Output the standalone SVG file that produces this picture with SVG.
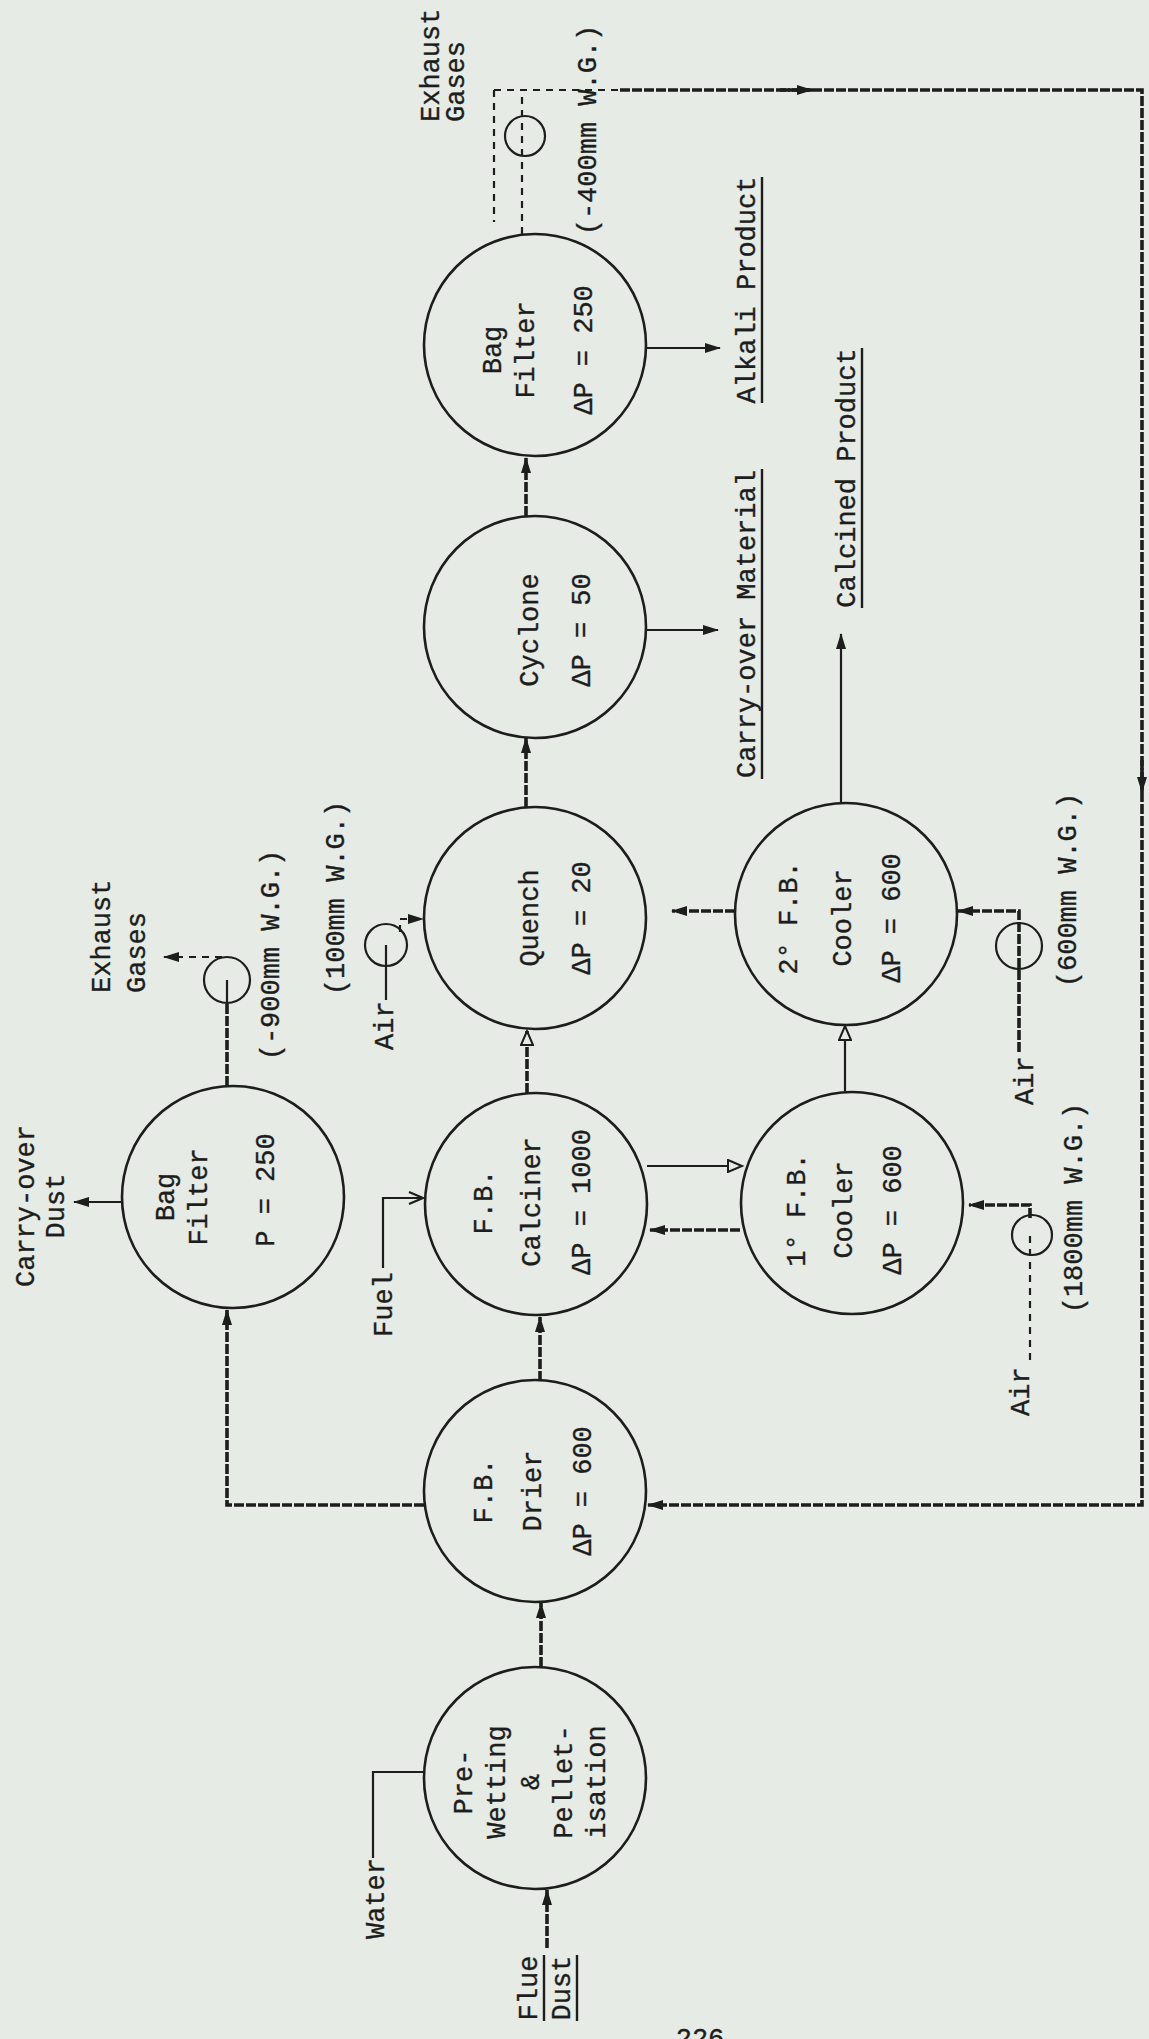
<svg xmlns="http://www.w3.org/2000/svg" width="1149" height="2039" viewBox="0 0 1149 2039">
  <defs>
    <style>
      .bg { fill: #e6ebe5; }
      .unit { fill: none; stroke: #1d1d1d; stroke-width: 2.6; }
      .fan { fill: none; stroke: #1d1d1d; stroke-width: 2.2; }
      .t { font-family: "Liberation Mono", "DejaVu Sans Mono", monospace; font-size: 27px; fill: #1d1d1d; stroke: #1d1d1d; stroke-width: 0.35; }
      .thin { fill: none; stroke: #1d1d1d; stroke-width: 2.2; }
      .thick { fill: none; stroke: #1d1d1d; stroke-width: 3.6; stroke-dasharray: 10 2; }
      .dash { fill: none; stroke: #1d1d1d; stroke-width: 2.2; stroke-dasharray: 7 6; }
      .ul { stroke: #1d1d1d; stroke-width: 2.4; }
    </style>
    <marker id="ah" markerUnits="userSpaceOnUse" markerWidth="18" markerHeight="12" refX="15" refY="6" orient="auto">
      <path d="M0,1 L16,6 L0,11 z" fill="#1d1d1d"/>
    </marker>
    <marker id="ao" markerUnits="userSpaceOnUse" markerWidth="18" markerHeight="14" refX="15" refY="7" orient="auto">
      <path d="M1,1 L15,7 L1,13 z" fill="#e6ebe5" stroke="#1d1d1d" stroke-width="2"/>
    </marker>
    <marker id="av" markerUnits="userSpaceOnUse" markerWidth="18" markerHeight="14" refX="15" refY="7" orient="auto">
      <path d="M1,1 L15,7 L1,13" fill="none" stroke="#1d1d1d" stroke-width="2.2"/>
    </marker>
  </defs>

  <rect class="bg" x="0" y="0" width="1149" height="2039"/>

  <!-- connectors -->
  <g id="connectors">
    <!-- feed and main train -->
    <line class="thick" x1="547" y1="1948" x2="547" y2="1890" marker-end="url(#ah)"/>
    <polyline class="thin" points="373,1858 373,1772 424,1772"/>
    <line class="thick" x1="541" y1="1667" x2="541" y2="1603" marker-end="url(#ah)"/>
    <line class="thick" x1="540" y1="1381" x2="540" y2="1317" marker-end="url(#ah)"/>
    <polyline class="thick" points="424,1505 227,1505 227,1310" marker-end="url(#ah)"/>
    <polyline class="thin" points="383,1268 383,1198 423,1198" marker-end="url(#av)"/>
    <line class="thick" x1="527" y1="1093" x2="527" y2="1031" marker-end="url(#ao)"/>
    <line class="thick" x1="526" y1="807" x2="526" y2="738" marker-end="url(#ah)"/>
    <line class="thick" x1="526" y1="516" x2="526" y2="458" marker-end="url(#ah)"/>

    <!-- calciner / coolers -->
    <line class="thin" x1="647" y1="1166" x2="742" y2="1166" marker-end="url(#ao)"/>
    <line class="thick" x1="740" y1="1230" x2="650" y2="1230" marker-end="url(#ah)"/>
    <line class="thin" x1="845" y1="1091" x2="845" y2="1026" marker-end="url(#ao)"/>
    <line class="thin" x1="841" y1="802" x2="841" y2="634" marker-end="url(#ah)"/>
    <line class="thick" x1="735" y1="911" x2="672" y2="911" marker-end="url(#ah)"/>

    <!-- products -->
    <line class="thin" x1="646" y1="630" x2="718" y2="630" marker-end="url(#ah)"/>
    <line class="thin" x1="646" y1="348" x2="720" y2="348" marker-end="url(#ah)"/>
    <line class="thin" x1="122" y1="1202" x2="74" y2="1202" marker-end="url(#ah)"/>

    <!-- first bag filter exhaust -->
    <line class="thick" x1="227" y1="1086" x2="227" y2="1003"/>
    <line class="thin" x1="227" y1="1003" x2="227" y2="980"/>
    <line class="dash" x1="222" y1="957" x2="164" y2="957" marker-end="url(#ah)"/>

    <!-- quench air -->
    <line class="thin" x1="386" y1="1000" x2="386" y2="945"/>
    <polyline class="dash" points="400,932 400,919 423,919" marker-end="url(#ah)"/>

    <!-- 2nd cooler air -->
    <polyline class="thick" points="1019,1052 1019,911 958,911" marker-end="url(#ah)"/>

    <!-- 1st cooler air -->
    <line class="dash" x1="1030" y1="1360" x2="1030" y2="1235"/>
    <polyline class="thick" points="1030,1218 1030,1205 969,1205" marker-end="url(#ah)"/>

    <!-- second bag filter exhaust and recycle -->
    <line class="dash" x1="522" y1="234" x2="522" y2="90"/>
    <line class="dash" x1="494" y1="90" x2="494" y2="222"/>
    <line class="dash" x1="494" y1="90" x2="620" y2="90"/>
    <polyline class="thick" points="620,90 1142,90 1142,1505 648,1505" marker-end="url(#ah)"/>
    <line class="thick" x1="780" y1="90" x2="812" y2="90" marker-end="url(#ah)"/>
    <line class="thick" x1="1142" y1="760" x2="1142" y2="792" marker-end="url(#ah)"/>
  </g>

  <!-- process units -->
  <g id="pre-wetting">
    <circle class="unit" cx="535" cy="1778" r="111"/>
    <text class="t" text-anchor="middle" dominant-baseline="central" transform="translate(465,1782) rotate(-90)">Pre-</text>
    <text class="t" text-anchor="middle" dominant-baseline="central" transform="translate(498,1782) rotate(-90)">Wetting</text>
    <text class="t" text-anchor="middle" dominant-baseline="central" transform="translate(532,1782) rotate(-90)">&amp;</text>
    <text class="t" text-anchor="middle" dominant-baseline="central" transform="translate(565,1782) rotate(-90)">Pellet-</text>
    <text class="t" text-anchor="middle" dominant-baseline="central" transform="translate(598,1782) rotate(-90)">isation</text>
  </g>

  <g id="drier">
    <circle class="unit" cx="535" cy="1491" r="111"/>
    <text class="t" text-anchor="middle" dominant-baseline="central" transform="translate(485,1491) rotate(-90)">F.B.</text>
    <text class="t" text-anchor="middle" dominant-baseline="central" transform="translate(534,1491) rotate(-90)">Drier</text>
    <text class="t" text-anchor="middle" dominant-baseline="central" transform="translate(584,1491) rotate(-90)">ΔP = 600</text>
  </g>

  <g id="calciner">
    <circle class="unit" cx="536" cy="1204" r="111"/>
    <text class="t" text-anchor="middle" dominant-baseline="central" transform="translate(485,1202) rotate(-90)">F.B.</text>
    <text class="t" text-anchor="middle" dominant-baseline="central" transform="translate(533,1202) rotate(-90)">Calciner</text>
    <text class="t" text-anchor="middle" dominant-baseline="central" transform="translate(583,1202) rotate(-90)">ΔP = 1000</text>
  </g>

  <g id="quench">
    <circle class="unit" cx="535" cy="918" r="111"/>
    <text class="t" text-anchor="middle" dominant-baseline="central" transform="translate(531,918) rotate(-90)">Quench</text>
    <text class="t" text-anchor="middle" dominant-baseline="central" transform="translate(583,918) rotate(-90)">ΔP = 20</text>
  </g>

  <g id="cyclone">
    <circle class="unit" cx="535" cy="627" r="111"/>
    <text class="t" text-anchor="middle" dominant-baseline="central" transform="translate(531,630) rotate(-90)">Cyclone</text>
    <text class="t" text-anchor="middle" dominant-baseline="central" transform="translate(583,630) rotate(-90)">ΔP = 50</text>
  </g>

  <g id="bag-filter-2">
    <circle class="unit" cx="535" cy="345" r="111"/>
    <text class="t" text-anchor="middle" dominant-baseline="central" transform="translate(494,350) rotate(-90)">Bag</text>
    <text class="t" text-anchor="middle" dominant-baseline="central" transform="translate(527,350) rotate(-90)">Filter</text>
    <text class="t" text-anchor="middle" dominant-baseline="central" transform="translate(585,350) rotate(-90)">ΔP = 250</text>
  </g>

  <g id="bag-filter-1">
    <circle class="unit" cx="233" cy="1197" r="111"/>
    <text class="t" text-anchor="middle" dominant-baseline="central" transform="translate(167,1197) rotate(-90)">Bag</text>
    <text class="t" text-anchor="middle" dominant-baseline="central" transform="translate(200,1197) rotate(-90)">Filter</text>
    <text class="t" text-anchor="middle" dominant-baseline="central" transform="translate(267,1190) rotate(-90)">P = 250</text>
  </g>

  <g id="cooler-1">
    <circle class="unit" cx="852" cy="1203" r="111"/>
    <text class="t" text-anchor="middle" dominant-baseline="central" transform="translate(798,1210) rotate(-90)">1° F.B.</text>
    <text class="t" text-anchor="middle" dominant-baseline="central" transform="translate(845,1210) rotate(-90)">Cooler</text>
    <text class="t" text-anchor="middle" dominant-baseline="central" transform="translate(894,1210) rotate(-90)">ΔP = 600</text>
  </g>

  <g id="cooler-2">
    <circle class="unit" cx="846" cy="914" r="111"/>
    <text class="t" text-anchor="middle" dominant-baseline="central" transform="translate(790,918) rotate(-90)">2° F.B.</text>
    <text class="t" text-anchor="middle" dominant-baseline="central" transform="translate(844,918) rotate(-90)">Cooler</text>
    <text class="t" text-anchor="middle" dominant-baseline="central" transform="translate(893,918) rotate(-90)">ΔP = 600</text>
  </g>

  <!-- fans -->
  <g id="fan-bag-filter-1">
    <circle class="fan" cx="227" cy="980" r="23"/>
  </g>
  <g id="fan-quench-air">
    <circle class="fan" cx="386" cy="945" r="21"/>
  </g>
  <g id="fan-cooler-2">
    <circle class="fan" cx="1019" cy="946" r="23"/>
  </g>
  <g id="fan-cooler-1">
    <circle class="fan" cx="1032" cy="1235" r="20"/>
  </g>
  <g id="fan-bag-filter-2">
    <circle class="fan" cx="525" cy="136" r="20"/>
  </g>

  <!-- stream labels -->
  <g id="labels">
    <text class="t" text-anchor="middle" dominant-baseline="central" transform="translate(530,1988) rotate(-90)">Flue</text>
    <text class="t" text-anchor="middle" dominant-baseline="central" transform="translate(563,1988) rotate(-90)">Dust</text>
    <line class="ul" x1="544" y1="1955" x2="544" y2="2021"/>
    <line class="ul" x1="577" y1="1955" x2="577" y2="2021"/>

    <text class="t" text-anchor="start" dominant-baseline="central" transform="translate(377,1939) rotate(-90)">Water</text>
    <text class="t" text-anchor="start" dominant-baseline="central" transform="translate(385,1337) rotate(-90)">Fuel</text>

    <text class="t" text-anchor="middle" dominant-baseline="central" transform="translate(27,1206) rotate(-90)">Carry-over</text>
    <text class="t" text-anchor="middle" dominant-baseline="central" transform="translate(57,1206) rotate(-90)">Dust</text>

    <text class="t" text-anchor="start" dominant-baseline="central" transform="translate(103,993) rotate(-90)">Exhaust</text>
    <text class="t" text-anchor="start" dominant-baseline="central" transform="translate(138,993) rotate(-90)">Gases</text>
    <text class="t" text-anchor="middle" dominant-baseline="central" transform="translate(272,955) rotate(-90)">(-900mm W.G.)</text>

    <text class="t" text-anchor="middle" dominant-baseline="central" transform="translate(337,898) rotate(-90)">(100mm W.G.)</text>
    <text class="t" text-anchor="start" dominant-baseline="central" transform="translate(386,1050) rotate(-90)">Air</text>

    <text class="t" text-anchor="middle" dominant-baseline="central" transform="translate(748,624) rotate(-90)">Carry-over Material</text>
    <line class="ul" x1="762" y1="469" x2="762" y2="779"/>
    <text class="t" text-anchor="middle" dominant-baseline="central" transform="translate(848,478) rotate(-90)">Calcined Product</text>
    <line class="ul" x1="862" y1="348" x2="862" y2="608"/>
    <text class="t" text-anchor="middle" dominant-baseline="central" transform="translate(748,290) rotate(-90)">Alkali Product</text>
    <line class="ul" x1="762" y1="177" x2="762" y2="403"/>

    <text class="t" text-anchor="middle" dominant-baseline="central" transform="translate(1069,890) rotate(-90)">(600mm W.G.)</text>
    <text class="t" text-anchor="start" dominant-baseline="central" transform="translate(1026,1105) rotate(-90)">Air</text>
    <text class="t" text-anchor="middle" dominant-baseline="central" transform="translate(1075,1208) rotate(-90)">(1800mm W.G.)</text>
    <text class="t" text-anchor="start" dominant-baseline="central" transform="translate(1022,1416) rotate(-90)">Air</text>

    <text class="t" text-anchor="start" dominant-baseline="central" transform="translate(432,122) rotate(-90)">Exhaust</text>
    <text class="t" text-anchor="start" dominant-baseline="central" transform="translate(457,122) rotate(-90)">Gases</text>
    <text class="t" text-anchor="middle" dominant-baseline="central" transform="translate(589,130) rotate(-90)">(-400mm W.G.)</text>

    <text class="t" text-anchor="middle" x="700" y="2047">226</text>
  </g>
</svg>
